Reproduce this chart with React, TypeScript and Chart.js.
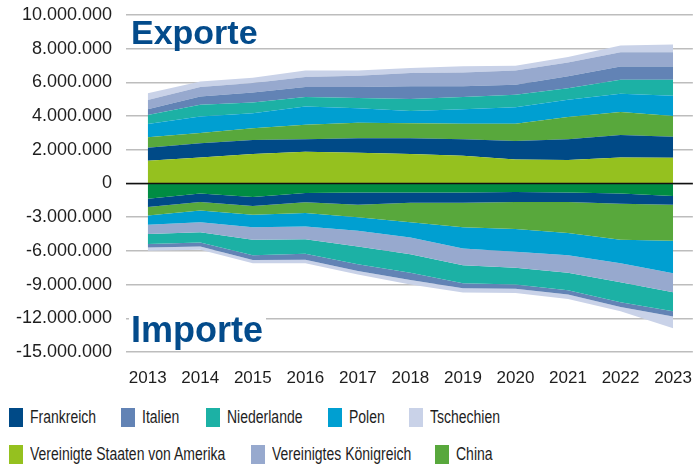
import React, { useEffect, useRef } from 'react';
import { Chart, registerables } from 'chart.js';

Chart.register(...registerables);

const years = [2013, 2014, 2015, 2016, 2017, 2018, 2019, 2020, 2021, 2022, 2023];

// Exporte (Euro), stacked upward from 0
const exportUSA = [1350000, 1550000, 1750000, 1880000, 1820000, 1750000, 1650000, 1430000, 1390000, 1550000, 1530000];
const exportFR = [770000, 840000, 830000, 740000, 860000, 930000, 970000, 1090000, 1230000, 1330000, 1250000];
const exportCN = [620000, 610000, 700000, 860000, 930000, 900000, 920000, 1020000, 1320000, 1370000, 1230000];
const exportPL = [790000, 970000, 890000, 1090000, 860000, 730000, 870000, 990000, 1030000, 1070000, 1200000];
const exportNL = [540000, 700000, 640000, 560000, 600000, 700000, 720000, 740000, 690000, 840000, 950000];
const exportIT = [340000, 500000, 590000, 590000, 650000, 760000, 640000, 590000, 700000, 790000, 790000];
const exportUK = [550000, 550000, 560000, 600000, 680000, 790000, 820000, 850000, 820000, 840000, 840000];
const exportCZ = [400000, 340000, 320000, 390000, 310000, 300000, 370000, 280000, 330000, 400000, 460000];

// Importe (Euro), stacked downward from 0
const importUSA = [-1350000, -900000, -1200000, -850000, -810000, -810000, -810000, -750000, -810000, -900000, -1110000];
const importFR = [-750000, -750000, -810000, -830000, -1080000, -900000, -900000, -900000, -840000, -900000, -780000];
const importCN = [-750000, -750000, -780000, -940000, -1110000, -1740000, -2190000, -2390000, -2750000, -3200000, -3200000];
const importPL = [-830000, -1050000, -1110000, -1200000, -1200000, -1350000, -1890000, -2040000, -1980000, -2100000, -2910000];
const importUK = [-810000, -900000, -1100000, -1150000, -1410000, -1490000, -1490000, -1410000, -1560000, -1680000, -1680000];
const importNL = [-900000, -900000, -1380000, -1280000, -1580000, -1650000, -1590000, -1490000, -1560000, -1790000, -1700000];
const importIT = [-310000, -360000, -420000, -530000, -600000, -660000, -450000, -400000, -380000, -430000, -450000];
const importCZ = [-290000, -290000, -300000, -320000, -300000, -380000, -380000, -360000, -400000, -380000, -1050000];

const exportTicks = [0, 2000000, 4000000, 6000000, 8000000, 10000000];
const importTicks = [-15000000, -12000000, -9000000, -6000000, -3000000, 0];

const COLORS = {
  fr: '#004a87',
  it: '#6283b5',
  nl: '#1cb1a5',
  pl: '#009fd1',
  cz: '#c9d2e8',
  usa: '#95c11f',
  usaImp: '#008c43',
  uk: '#97a9ce',
  cn: '#58a83c',
};

const legendRow1 = [
  { label: 'Frankreich', color: COLORS.fr, left: 9 },
  { label: 'Italien', color: COLORS.it, left: 121 },
  { label: 'Niederlande', color: COLORS.nl, left: 206 },
  { label: 'Polen', color: COLORS.pl, left: 328 },
  { label: 'Tschechien', color: COLORS.cz, left: 409 },
];
const legendRow2 = [
  { label: 'Vereinigte Staaten von Amerika', color: COLORS.usa, left: 9 },
  { label: 'Vereinigtes Königreich', color: COLORS.uk, left: 251 },
  { label: 'China', color: COLORS.cn, left: 435 },
];

const fmt = (v: number) => {
  const s = Math.abs(v).toString().replace(/\B(?=(\d{3})+(?!\d))/g, '.');
  return (v < 0 ? '-' : '') + s;
};

const mk = (label: string, data: number[], color: string, axis: string, fill: any) => ({
  label,
  data: years.map((x, i) => ({ x, y: data[i] })),
  backgroundColor: color,
  borderColor: 'rgba(0,0,0,0)',
  borderWidth: 0,
  pointRadius: 0,
  pointHoverRadius: 0,
  fill,
  yAxisID: axis,
  tension: 0,
});

const TITLE_COLOR = '#034b8b';

const overlayPlugin = {
  id: 'overlay',
  afterDatasetsDraw(chart: any) {
    const { ctx, chartArea } = chart;
    const y = chart.scales.yExp.getPixelForValue(0);
    ctx.save();
    ctx.strokeStyle = '#111';
    ctx.lineWidth = 1.5;
    ctx.beginPath();
    ctx.moveTo(chartArea.left, y);
    ctx.lineTo(chartArea.right, y);
    ctx.stroke();
    ctx.restore();
  },
  afterDraw(chart: any) {
    const { ctx } = chart;
    ctx.save();
    ctx.textBaseline = 'alphabetic';
    ctx.textAlign = 'left';
    ctx.fillStyle = TITLE_COLOR;
    ctx.font = 'bold 34px "Liberation Sans", Arial, sans-serif';
    ctx.fillText('Exporte', 131, 43.5);
    ctx.font = 'bold 36px "Liberation Sans", Arial, sans-serif';
    const w = ctx.measureText('Importe').width;
    ctx.fillStyle = '#ffffff';
    ctx.fillRect(129, 313, w + 5, 36);
    ctx.fillStyle = TITLE_COLOR;
    ctx.fillText('Importe', 131, 341.5);
    ctx.restore();
  },
};

const yFit = (scale: any) => {
  scale.width = 126;
  scale.paddingTop = 0;
  scale.paddingBottom = 0;
};

export default function App() {
  const ref = useRef<HTMLCanvasElement | null>(null);

  useEffect(() => {
    if (!ref.current) return;
    const tickFont = { family: '"Liberation Sans", Arial, sans-serif', size: 18 };
    const chart = new Chart(ref.current, {
      type: 'line',
      data: {
        datasets: [
          mk('Vereinigte Staaten von Amerika', exportUSA, COLORS.usa, 'yExp', 'origin'),
          mk('Frankreich', exportFR, COLORS.fr, 'yExp', '-1'),
          mk('China', exportCN, COLORS.cn, 'yExp', '-1'),
          mk('Polen', exportPL, COLORS.pl, 'yExp', '-1'),
          mk('Niederlande', exportNL, COLORS.nl, 'yExp', '-1'),
          mk('Italien', exportIT, COLORS.it, 'yExp', '-1'),
          mk('Vereinigtes Königreich', exportUK, COLORS.uk, 'yExp', '-1'),
          mk('Tschechien', exportCZ, COLORS.cz, 'yExp', '-1'),
          mk('Vereinigte Staaten von Amerika (Importe)', importUSA, COLORS.usaImp, 'yImp', 'origin'),
          mk('Frankreich (Importe)', importFR, COLORS.fr, 'yImp', '-1'),
          mk('China (Importe)', importCN, COLORS.cn, 'yImp', '-1'),
          mk('Polen (Importe)', importPL, COLORS.pl, 'yImp', '-1'),
          mk('Vereinigtes Königreich (Importe)', importUK, COLORS.uk, 'yImp', '-1'),
          mk('Niederlande (Importe)', importNL, COLORS.nl, 'yImp', '-1'),
          mk('Italien (Importe)', importIT, COLORS.it, 'yImp', '-1'),
          mk('Tschechien (Importe)', importCZ, COLORS.cz, 'yImp', '-1'),
        ] as any,
      },
      options: {
        animation: false,
        responsive: false,
        layout: { padding: { top: 15, left: 0, right: 0, bottom: 0 } },
        plugins: {
          legend: { display: false },
          tooltip: { enabled: false },
        },
        scales: {
          x: {
            type: 'linear',
            min: 2012.586,
            max: 2023.376,
            grid: { display: false },
            border: { display: false },
            afterBuildTicks: (scale: any) => {
              scale.ticks = years.map((v) => ({ value: v }));
            },
            afterFit: (scale: any) => {
              scale.height = 43;
            },
            ticks: {
              padding: 8,
              color: '#1e1e1e',
              font: { family: '"Liberation Sans", Arial, sans-serif', size: 17 },
              callback: (v: any) => String(v),
              maxRotation: 0,
              autoSkip: false,
            },
          },
          yImp: {
            type: 'linear',
            position: 'left',
            stack: 'y',
            stackWeight: 1,
            stacked: true,
            min: -15000000,
            max: 0,
            afterBuildTicks: (scale: any) => {
              scale.ticks = importTicks.map((v) => ({ value: v }));
            },
            afterFit: yFit,
            grid: {
              drawTicks: false,
              color: '#bdbdbd',
              lineWidth: 1.5,
            },
            border: { display: false },
            ticks: {
              padding: 14,
              autoSkip: false,
              color: '#1e1e1e',
              font: tickFont,
              callback: (v: any) => (v === 0 ? '' : fmt(v)),
            },
          },
          yExp: {
            type: 'linear',
            position: 'left',
            stack: 'y',
            stackWeight: 1,
            stacked: true,
            min: 0,
            max: 10000000,
            afterBuildTicks: (scale: any) => {
              scale.ticks = exportTicks.map((v) => ({ value: v }));
            },
            afterFit: yFit,
            grid: {
              drawTicks: false,
              color: '#bdbdbd',
              lineWidth: 1.5,
            },
            border: { display: false },
            ticks: {
              padding: 14,
              autoSkip: false,
              color: '#1e1e1e',
              font: tickFont,
              callback: (v: any) => fmt(v),
            },
          },
        } as any,
      },
      plugins: [overlayPlugin],
    });
    return () => chart.destroy();
  }, []);

  const legendFont = '"Liberation Sans", Arial, sans-serif';
  const renderRow = (items: { label: string; color: string; left: number }[], top: number) =>
    items.map((it) => (
      <div
        key={it.label}
        style={{
          position: 'absolute',
          left: it.left,
          top,
          height: 19,
          display: 'flex',
          alignItems: 'center',
          whiteSpace: 'nowrap',
        }}
      >
        <span style={{ display: 'inline-block', width: 14, height: 19, background: it.color, marginRight: 7 }} />
        <span
          style={{
            display: 'inline-block',
            fontFamily: legendFont,
            fontSize: 17.5,
            color: '#1e1e1e',
            lineHeight: '19px',
            transform: 'scaleX(0.8)',
            transformOrigin: 'left center',
          }}
        >
          {it.label}
        </span>
      </div>
    ));

  return (
    <div style={{ position: 'absolute', left: 0, top: 0, width: 700, height: 470, background: '#fff', overflow: 'hidden' }}>
      <canvas ref={ref} width={700} height={395} style={{ display: 'block', width: 700, height: 395 }} />
      {renderRow(legendRow1, 408)}
      {renderRow(legendRow2, 445)}
    </div>
  );
}
